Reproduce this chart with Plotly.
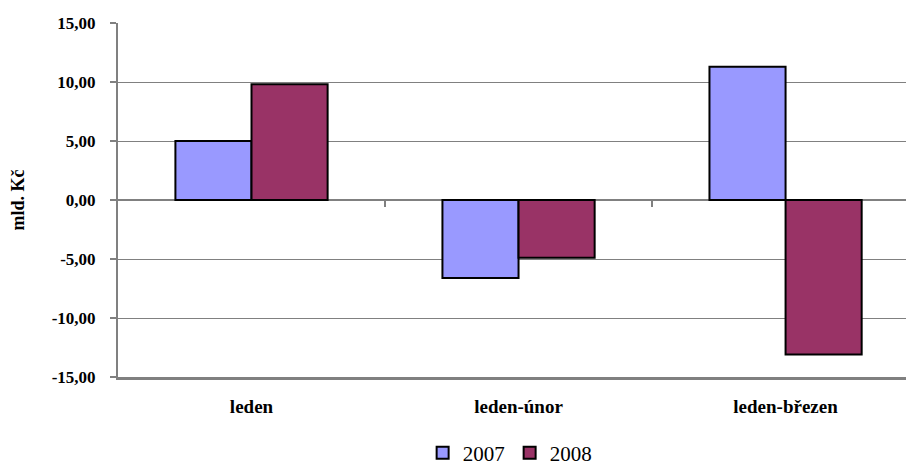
import plotly.graph_objects as go

categories = ["leden", "leden-únor", "leden-březen"]
series_names = ["2007", "2008"]
values_2007 = [5.0, -6.6, 11.3]
values_2008 = [9.8, -4.9, -13.1]
y_ticks = [-15, -10, -5, 0, 5, 10, 15]
y_tick_labels = ["-15,00", "-10,00", "-5,00", "0,00", "5,00", "10,00", "15,00"]

colors = ["#9999FF", "#993366"]
FONT = "Liberation Serif"

fig = go.Figure()
for name, vals, col in zip(series_names, [values_2007, values_2008], colors):
    fig.add_trace(go.Bar(
        x=categories, y=vals, name=name,
        marker=dict(color=col, line=dict(color="black", width=2)),
    ))

# invisible trace to draw small category-boundary ticks on the zero line
fig.add_trace(go.Scatter(x=[0, 1, 2], y=[None, None, None], xaxis="x2",
                         showlegend=False, hoverinfo="skip", mode="lines"))

fig.update_layout(
    width=906, height=469,
    margin=dict(l=118, r=0, t=23, b=92, autoexpand=False),
    paper_bgcolor="white", plot_bgcolor="white",
    barmode="group", bargap=0.43, bargroupgap=0,
    font=dict(family=FONT, color="black"),
    showlegend=True,
    legend=dict(orientation="h", x=0.497, xanchor="center", y=-0.215, yanchor="middle",
                font=dict(size=21, family=FONT), itemwidth=30,
                traceorder="normal"),
    xaxis=dict(
        type="category", range=[-0.5, 2.451], automargin=False,
        showgrid=False, zeroline=False,
        showline=True, linecolor="#808080", linewidth=2.5,
        ticks="", tickfont=dict(size=19, family=FONT, color="black", weight="bold"),
        ticklabelstandoff=10,
    ),
    xaxis2=dict(
        overlaying="x", anchor="free", position=0.5, type="linear",
        range=[-0.5, 2.451], tickmode="array", tickvals=[0.5, 1.5],
        ticks="outside", ticklen=6, tickcolor="#808080", tickwidth=1.5,
        showticklabels=False, showgrid=False, zeroline=False, showline=False,
        automargin=False,
    ),
    yaxis=dict(
        range=[-15, 15], tickmode="array", tickvals=y_ticks, ticktext=y_tick_labels,
        automargin=False,
        showgrid=True, gridcolor="#808080", gridwidth=1,
        zeroline=True, zerolinecolor="#808080", zerolinewidth=2,
        showline=True, linecolor="#808080", linewidth=2,
        ticks="outside", ticklen=6, tickcolor="#808080", tickwidth=1.5,
        tickfont=dict(size=17, family=FONT, color="black", weight="bold"),
        ticklabelstandoff=11,
        title=dict(text="mld. Kč", font=dict(size=18, family=FONT, weight="bold"), standoff=22),
    ),
)

fig.write_html("out.html", config={"displayModeBar": False},
               post_script="document.body.style.margin='0';document.body.style.padding='0';")
